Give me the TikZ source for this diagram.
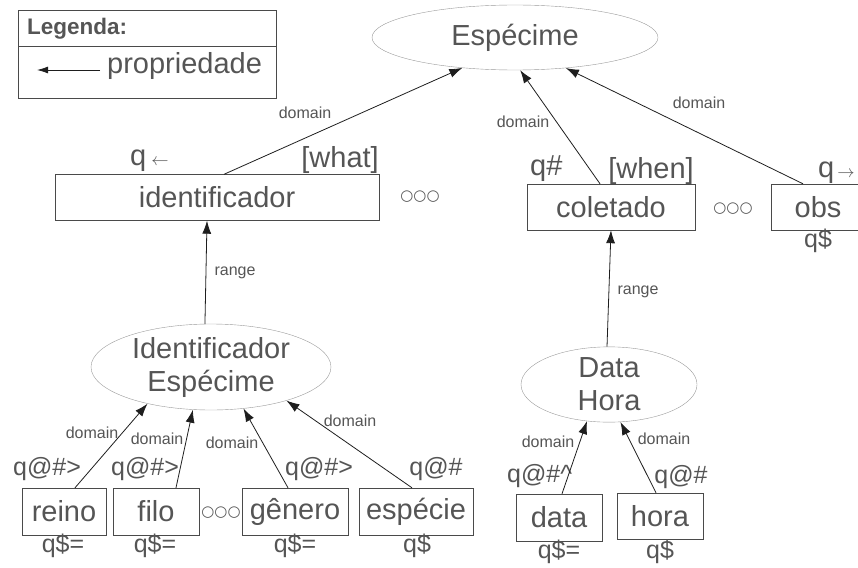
\documentclass[tikz,border=0pt]{standalone}
\usepackage{fontspec}
\setmainfont{Liberation Sans}
\newfontfamily\symbfont{DejaVu Sans}
\usepackage{xcolor}
\usetikzlibrary{shapes,arrows.meta,positioning}
\definecolor{txtgray}{HTML}{555555}
\definecolor{boxgray}{HTML}{4A4A4A}
\definecolor{ellgray}{HTML}{9A9A9A}
\definecolor{arrgray}{HTML}{1E1E1E}
\newcommand{\ooo}{{\symbfont\fontsize{15}{15}\selectfont ○○○}}

\begin{document}
\begin{tikzpicture}[x=1pt,y=-1pt,
    every node/.style={text=txtgray, inner sep=0pt},
    classe/.style={ellipse, draw=ellgray, align=center, font=\fontsize{29}{33}\selectfont},
    campo/.style={rectangle, draw=boxgray, font=\fontsize{29}{29}\selectfont},
    grande/.style={font=\fontsize{29}{29}\selectfont},
    marca/.style={font=\fontsize{25}{25}\selectfont, anchor=base},
    rotulo/.style={font=\fontsize{16}{16}\selectfont},
    prop/.style={draw=arrgray, line width=0.8pt, -{Latex[length=13pt,width=9pt]}}]

    \clip (0,0) rectangle (858,567);

    % Legenda
    \node[draw=boxgray, minimum width=258pt, minimum height=88pt, anchor=north west] (legenda) at (18,10) {};
    \draw[boxgray] (18,46) -- (276,46);
    \node[font=\bfseries\fontsize{22.5}{22.5}\selectfont, anchor=base west] (leg-titulo) at (27,35) {Legenda:};
    \coordinate (leg-ini) at (100,70);
    \coordinate (leg-fim) at (37,70);
    \draw[prop, -{Latex[length=11pt,width=7pt]}] (leg-ini) -- (leg-fim);
    \node[grande, anchor=base west] (leg-prop) at (107,74) {propriedade};

    % Especime
    \node[classe, minimum width=286pt, minimum height=65pt] (especime) at (515,37.5) {Espécime};

    % identificador
    \node[campo, minimum width=324pt, minimum height=46pt] (identificador) at (217,197.5) {identificador};
    \node[grande, anchor=base west] (q-ident) at (130,165) {q\hspace{5pt}{\fontsize{17}{17}\selectfont$\leftarrow$}};
    \node[grande, anchor=base east] (what) at (379,167) {[what]};
    \node (ooo-ident) at (420,197) {\ooo};

    % coletado e obs
    \node[campo, minimum width=168pt, minimum height=46pt] (coletado) at (611,207) {coletado};
    \node[grande, anchor=base west] (q-col) at (530,175) {q\#};
    \node[grande, anchor=base east] (when) at (694,178) {[when]};
    \node (ooo-col) at (733,209) {\ooo};
    \node[campo, minimum width=94pt, minimum height=46pt] (obs) at (818,207) {obs};
    \node[grande, anchor=base west] (q-obs) at (818,177) {q\hspace{3pt}{\fontsize{17}{17}\selectfont$\rightarrow$}};
    \node[marca] (qs-obs) at (818,247) {q\$};

    % Data Hora
    \node[classe, minimum width=176pt, minimum height=65pt] (datahora) at (609,384.5) {Data\\Hora};
    \node[campo, minimum width=86pt, minimum height=47pt] (data) at (559,517.5) {data};
    \node[campo, minimum width=86pt, minimum height=46pt] (hora) at (660,516) {hora};
    \node[marca, anchor=base west] (q-data) at (507,482) {q@\#\^{}};
    \node[marca] (q-hora) at (681,483) {q@\#};
    \node[marca] (qs-data) at (559,558) {q\$=};
    \node[marca] (qs-hora) at (660,558) {q\$};

    % Identificador Especime
    \node[classe, minimum width=240pt, minimum height=86pt] (idesp) at (211,367) {Identificador\\Espécime};
    \node[campo, minimum width=84pt, minimum height=47pt] (reino) at (64,511.5) {reino};
    \node[campo, minimum width=86pt, minimum height=47pt] (filo) at (156,511.5) {filo};
    \node (ooo-idesp) at (221,513) {\ooo};
    \node[campo, minimum width=106pt, minimum height=47pt] (genero) at (295,511.5) {gênero};
    \node[campo, minimum width=114pt, minimum height=47pt] (especie) at (416,511.5) {espécie};
    \node[marca] (q-reino) at (47,475) {q@\#>};
    \node[marca] (q-filo) at (145,475) {q@\#>};
    \node[marca] (q-genero) at (319,475) {q@\#>};
    \node[marca] (q-especie) at (436,475) {q@\#};
    \node[marca] (qs-reino) at (63,552) {q\$=};
    \node[marca] (qs-filo) at (155,552) {q\$=};
    \node[marca] (qs-genero) at (295,552) {q\$=};
    \node[marca] (qs-especie) at (417,552) {q\$};

    % propriedades
    \draw[prop] ([xshift=7pt]identificador.north) -- (especime.210);
    \draw[prop] ([xshift=-11pt]coletado.north) -- (especime.279);
    \draw[prop] ([xshift=-15pt]obs.north) -- (especime.329);
    \draw[prop] (idesp.98) -- ([xshift=-10pt]identificador.south);
    \draw[prop] ([xshift=-2pt]datahora.north) -- (coletado.south);
    \draw[prop] ([xshift=3pt]data.north) -- (datahora.239);
    \draw[prop] ([xshift=-4pt]hora.north) -- (datahora.287);
    \draw[prop] ([xshift=11pt]reino.north) -- (idesp.210);
    \draw[prop] ([xshift=20pt]filo.north) -- (idesp.247);
    \draw[prop] ([xshift=-7pt]genero.north) -- (idesp.308);
    \draw[prop] ([xshift=-4pt]especie.north) -- (idesp.336);

    % rotulos
    \node[rotulo] (lb-ident) at (305,113) {domain};
    \node[rotulo] (lb-col) at (523,122) {domain};
    \node[rotulo] (lb-obs) at (699,103) {domain};
    \node[rotulo] (lb-range-a) at (235,273) {range};
    \node[rotulo] (lb-range-b) at (638,292) {range};
    \node[rotulo] (lb-data) at (548,442) {domain};
    \node[rotulo] (lb-hora) at (664,439) {domain};
    \node[rotulo] (lb-reino) at (92,433) {domain};
    \node[rotulo] (lb-filo) at (157,439) {domain};
    \node[rotulo] (lb-genero) at (232,443) {domain};
    \node[rotulo] (lb-especie) at (350,421) {domain};
\end{tikzpicture}
\end{document}
